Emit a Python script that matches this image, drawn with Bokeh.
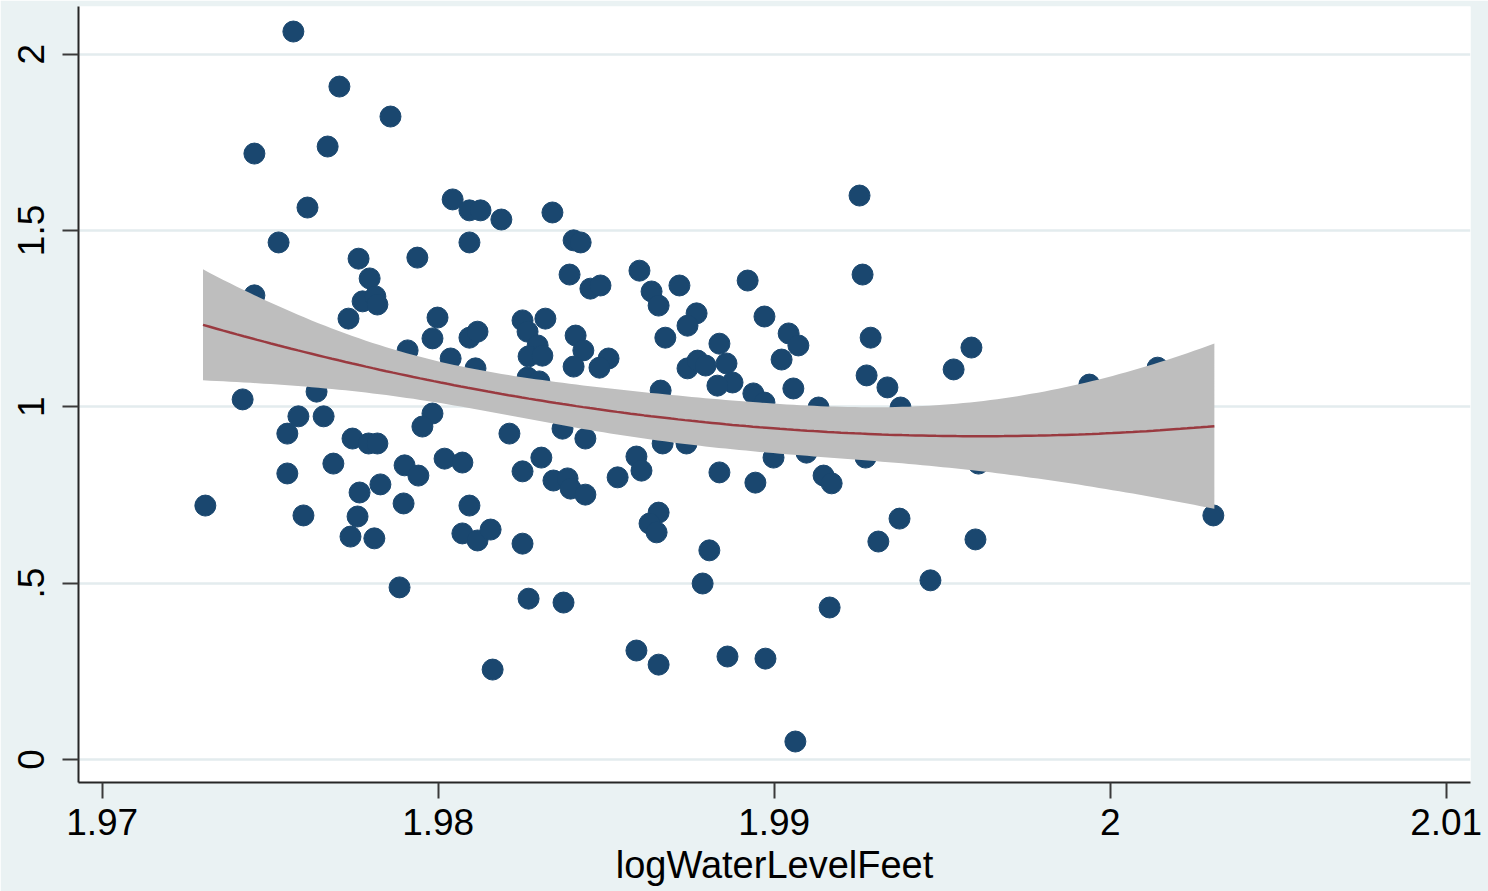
import numpy as np
from bokeh.plotting import figure
from bokeh.models import Range1d, FixedTicker
from bokeh.embed import file_html
from bokeh.resources import INLINE

log_water = [
    1.97569, 1.97706, 1.97858, 1.97453, 1.97671, 1.97611, 1.97525, 1.98043, 1.98093, 1.98126,
    1.98188, 1.98093, 1.98340, 1.98403, 1.98424, 1.98391, 1.98453, 1.98483, 1.98599, 1.98635,
    1.98656, 1.98718, 1.98921, 1.99254, 1.99263, 1.97763, 1.97938, 1.97796, 1.97453, 1.97775,
    1.97813, 1.97819, 1.97733, 1.97998, 1.97983, 1.98093, 1.98117, 1.97909, 1.98037, 1.98111,
    1.98251, 1.98319, 1.98266, 1.98296, 1.98269, 1.98310, 1.98266, 1.98301, 1.98409, 1.98432,
    1.98403, 1.98507, 1.98480, 1.98676, 1.98769, 1.98742, 1.98837, 1.98858, 1.98876, 1.98742,
    1.98772, 1.98796, 1.98831, 1.98662, 1.98971, 1.99043, 1.99072, 1.99022, 1.99057, 1.98938,
    1.98971, 1.99132, 1.99287, 1.99275, 1.99337, 1.99376, 1.99534, 1.99587, 1.99938, 2.00141,
    1.97418, 1.97638, 1.97584, 1.97551, 1.97659, 1.97745, 1.97793, 1.97819, 1.97688, 1.97551,
    1.97307, 1.97599, 1.97766, 1.97828, 1.97760, 1.97739, 1.97810, 1.97900, 1.97941, 1.97897,
    1.97983, 1.97953, 1.98019, 1.98072, 1.98093, 1.98072, 1.98117, 1.98156, 1.98212, 1.98251,
    1.98307, 1.98251, 1.98269, 1.97885, 1.98162, 1.98370, 1.98438, 1.98343, 1.98385, 1.98394,
    1.98438, 1.98373, 1.98534, 1.98590, 1.98605, 1.98656, 1.98629, 1.98650, 1.98668, 1.98739,
    1.98807, 1.98787, 1.98837, 1.98944, 1.98998, 1.99096, 1.99147, 1.99171, 1.98590, 1.98656,
    1.98861, 1.98974, 1.99063, 1.99165, 1.99272, 1.99310, 1.99373, 1.99465, 1.99599, 1.99608,
    2.00307,
]

resid = [
    2.064, 1.908, 1.823, 1.718, 1.738, 1.565, 1.466, 1.588, 1.557, 1.557,
    1.531, 1.466, 1.551, 1.472, 1.466, 1.375, 1.335, 1.344, 1.386, 1.327,
    1.287, 1.344, 1.358, 1.599, 1.375, 1.420, 1.423, 1.364, 1.316, 1.299,
    1.313, 1.290, 1.250, 1.253, 1.194, 1.196, 1.213, 1.160, 1.137, 1.109,
    1.245, 1.250, 1.213, 1.174, 1.143, 1.145, 1.083, 1.072, 1.202, 1.160,
    1.114, 1.137, 1.111, 1.196, 1.265, 1.230, 1.179, 1.123, 1.069, 1.109,
    1.131, 1.117, 1.060, 1.046, 1.256, 1.208, 1.174, 1.134, 1.052, 1.038,
    1.012, 0.998, 1.196, 1.089, 1.055, 0.998, 1.106, 1.168, 1.063, 1.111,
    1.021, 1.043, 0.973, 0.924, 0.973, 0.910, 0.896, 0.896, 0.839, 0.811,
    0.720, 0.692, 0.757, 0.780, 0.689, 0.632, 0.627, 0.834, 0.805, 0.726,
    0.981, 0.944, 0.853, 0.842, 0.720, 0.641, 0.621, 0.652, 0.924, 0.817,
    0.856, 0.612, 0.456, 0.488, 0.255, 0.938, 0.910, 0.791, 0.797, 0.768,
    0.751, 0.445, 0.800, 0.859, 0.819, 0.700, 0.669, 0.644, 0.896, 0.896,
    0.593, 0.499, 0.814, 0.785, 0.856, 0.870, 0.805, 0.783, 0.309, 0.269,
    0.292, 0.286, 0.051, 0.431, 0.856, 0.618, 0.683, 0.508, 0.624, 0.839,
    0.692,
]

# quadratic fit with 95% confidence band
fit_x = [1.9730, 1.9738, 1.9754, 1.9769, 1.9784, 1.9799, 1.9818, 1.9833,
         1.9863, 1.9893, 1.9923, 1.9952, 1.9967, 1.9997, 2.0031]
fit_y = [1.223, 1.208, 1.180, 1.143, 1.106, 1.072, 1.032, 1.013,
         0.971, 0.942, 0.925, 0.917, 0.917, 0.930, 0.942]
ci_hi = [1.382, 1.350, 1.282, 1.216, 1.169, 1.131, 1.098, 1.066,
         1.041, 1.009, 0.994, 1.007, 1.027, 1.075, 1.177]
ci_lo = [1.067, 1.065, 1.060, 1.055, 1.038, 1.013, 0.981, 0.942,
         0.900, 0.876, 0.857, 0.828, 0.800, 0.763, 0.715]

x_ticks = [1.97, 1.98, 1.99, 2.0, 2.01]
x_tick_labels = ["1.97", "1.98", "1.99", "2", "2.01"]
y_ticks = [0, 0.5, 1, 1.5, 2]
y_tick_labels = ["0", ".5", "1", "1.5", "2"]
x_title = "logWaterLevelFeet"

# smooth the read curve values with the model form of a quadratic fit:
# prediction is quadratic, squared half-width of the band is quartic
fx = np.array(fit_x)
x0, sc = 1.988, 0.015
t = (fx - x0) / sc
hw = (np.array(ci_hi) - np.array(ci_lo)) / 2
c_fit = np.polyfit(t, np.array(fit_y), 2)
c_hw2 = np.polyfit(t, hw ** 2, 4, w=1.0 / hw)
xs = np.linspace(fx[0], fx[-1], 150)
ts = (xs - x0) / sc
ys = np.polyval(c_fit, ts)
hws = np.sqrt(np.clip(np.polyval(c_hw2, ts), 1e-6, None))

BG = "#EAF2F3"
NAVY = "#1A476F"
FONT = "Liberation Sans"

p = figure(width=1488, height=891, output_backend="svg", toolbar_location=None,
           x_range=Range1d(1.969295, 2.010723), y_range=Range1d(-0.0652, 2.135),
           min_border_left=78, min_border_right=18, min_border_top=6, min_border_bottom=109)
p.border_fill_color = BG
p.background_fill_color = "white"
p.outline_line_color = None

p.scatter(log_water, resid, size=21, marker="circle", fill_color=NAVY, line_color=NAVY)
p.varea(x=xs, y1=ys - hws, y2=ys + hws, fill_color="#BEBEBE")
p.line(xs, ys, line_color="#9A3A40", line_width=2.5)

p.xaxis.ticker = FixedTicker(ticks=x_ticks)
p.yaxis.ticker = FixedTicker(ticks=y_ticks)
p.xaxis.major_label_overrides = {t_: l for t_, l in zip(x_ticks, x_tick_labels)}
p.yaxis.major_label_overrides = {t_: l for t_, l in zip(y_ticks, y_tick_labels)}
p.yaxis.major_label_orientation = "vertical"

for ax in (p.xaxis[0], p.yaxis[0]):
    ax.axis_line_color = "#262626"
    ax.axis_line_width = 2
    ax.major_tick_line_color = "#3a3a3a"
    ax.major_tick_line_width = 2
    ax.major_tick_out = 16
    ax.major_tick_in = 0
    ax.minor_tick_line_color = None
    ax.major_label_text_font = FONT
    ax.major_label_text_font_size = "37px"
    ax.major_label_text_color = "black"

p.xaxis.major_label_standoff = 10
p.yaxis.major_label_standoff = 18
p.xaxis.axis_label = x_title
p.xaxis.axis_label_text_font = FONT
p.xaxis.axis_label_text_font_size = "38px"
p.xaxis.axis_label_text_font_style = "normal"
p.xaxis.axis_label_text_color = "black"
p.xaxis.axis_label_standoff = 6

p.xgrid.grid_line_color = None
p.ygrid.ticker = FixedTicker(ticks=y_ticks)
p.ygrid.grid_line_color = "#E3ECEE"
p.ygrid.grid_line_width = 2.5

open("out.html", "w").write(file_html(p, INLINE))
